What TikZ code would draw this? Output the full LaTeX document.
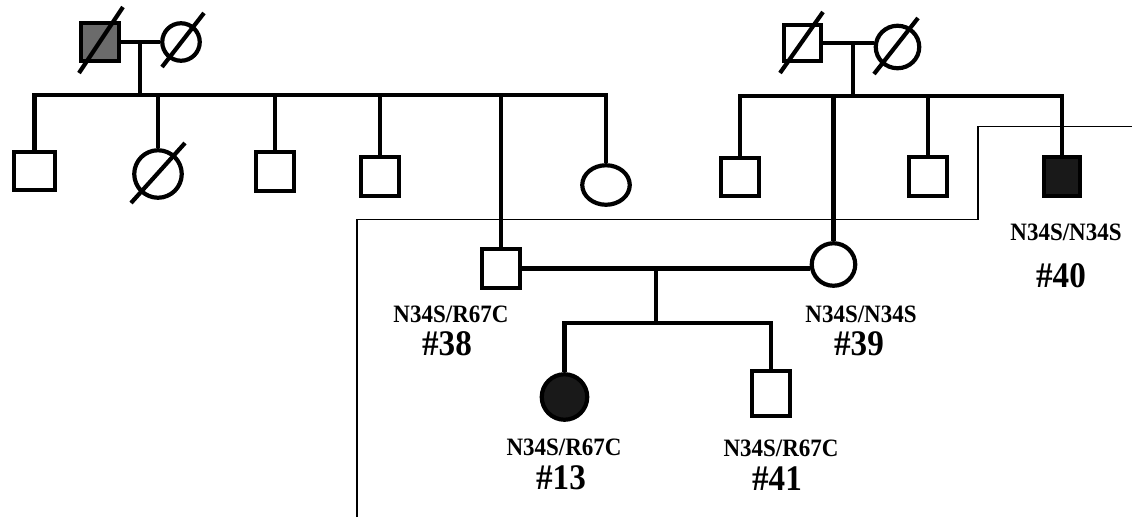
\documentclass[tikz,border=0pt]{standalone}
\usepackage{fontspec}
\setmainfont{Liberation Serif}
\newfontfamily\labfont[FakeStretch=0.92]{Liberation Serif}
\usetikzlibrary{shapes.geometric}

\begin{document}
\begin{tikzpicture}[x=1pt,y=-1pt,
  kin/.style={line width=4.2pt},
  male/.style={draw, line width=4.2pt, rectangle, minimum width=38.5pt, minimum height=38.5pt, inner sep=0pt},
  female/.style={draw, line width=4.2pt, ellipse, minimum width=43.5pt, minimum height=42.5pt, inner sep=0pt},
  shaded/.style={fill=black!58},
  affected/.style={fill=black!90},
  dead/.style={line width=4.2pt},
  boxline/.style={line width=1.5pt},
  geno/.style={font=\labfont\bfseries\fontsize{25}{25}\selectfont, inner sep=0pt, anchor=base},
  idno/.style={font=\labfont\bfseries\fontsize{36}{36}\selectfont, inner sep=0pt, anchor=base}]
\useasboundingbox (0,0) rectangle (1132,517);

\node[male, shaded] (gpA) at (100,42) {};
\node[female, minimum width=37.5pt, minimum height=37.5pt] (gmA) at (181,42) {};
\node[male, minimum width=40.5pt] (c1) at (34.5,171) {};
\node[female, minimum width=47.5pt, minimum height=47.5pt] (c2) at (158,174) {};
\node[male] (c3) at (275,171.5) {};
\node[male] (c4) at (380,176.5) {};
\node[male] (p38) at (501,268.5) {};
\node[female, minimum width=47.5pt, minimum height=39.5pt] (c6) at (606,185) {};

\node[male, minimum width=37.5pt, minimum height=36.5pt] (gpB) at (802.5,43) {};
\node[female] (gmB) at (897.5,47) {};
\node[male] (c7) at (740,177) {};
\node[female] (p39) at (833.5,264.5) {};
\node[male] (c8) at (928,176.5) {};
\node[male, affected, minimum width=36.5pt] (p40) at (1062,176.5) {};

\node[female, affected, minimum width=45.5pt, minimum height=45.5pt] (p13) at (564.5,397) {};
\node[male, minimum height=44.5pt] (p41) at (771,393.5) {};

\node[geno] (g38) at (451,322) {N34S/R67C};
\node[idno] (i38) at (447,355) {\#38};
\node[geno] (g39) at (861,322) {N34S/N34S};
\node[idno] (i39) at (859,355) {\#39};
\node[geno] (g40) at (1066,240) {N34S/N34S};
\node[idno] (i40) at (1061,287) {\#40};
\node[geno] (g13) at (564,455) {N34S/R67C};
\node[idno] (i13) at (561,489) {\#13};
\node[geno] (g41) at (781,456) {N34S/R67C};
\node[idno] (i41) at (777,490) {\#41};

\coordinate (sA) at (140,95);
\coordinate (sB) at (853,96);
\coordinate (sC) at (656,323);

\draw[kin] (gpA.east) -- (gmA.west);
\draw[kin] (sA |- gpA.east) -- (sA);
\draw[kin] (c1.north) -- (c1.north |- sA) -- (c6.north |- sA) -- (c6.north);
\draw[kin] (c2.north) -- (c2.north |- sA);
\draw[kin] (c3.north) -- (c3.north |- sA);
\draw[kin] (c4.north) -- (c4.north |- sA);
\draw[kin] (p38.north) -- (p38.north |- sA);

\draw[kin] (gpB.east) -- (gpB.east -| gmB.west);
\draw[kin] (sB |- gpB.east) -- (sB);
\draw[kin] (c7.north) -- (c7.north |- sB) -- (p40.north |- sB) -- (p40.north);
\draw[kin] (p39.north) -- (p39.north |- sB);
\draw[kin] (c8.north) -- (c8.north |- sB);

\draw[kin] (p38.east) -- (p38.east -| p39.west);
\draw[kin] (sC |- p38.east) -- (sC);
\draw[kin] (p13.north) -- (p13.north |- sC) -- (p41.north |- sC) -- (p41.north);

\draw[dead] (gpA.center) +(-21,31) -- +(23,-35);
\draw[dead] (gmA.center) +(-19,25) -- +(23,-29);
\draw[dead] (c2.center) +(-27,29) -- +(27,-31);
\draw[dead] (gpB.center) +(-22.5,30) -- +(20.5,-31);
\draw[dead] (gmB.center) +(-23.5,27) -- +(20.5,-29);

\draw[boxline] (357,517) -- (357,219.5) -- (978,219.5) -- (978,126.5) -- (1132,126.5);
\end{tikzpicture}
\end{document}
